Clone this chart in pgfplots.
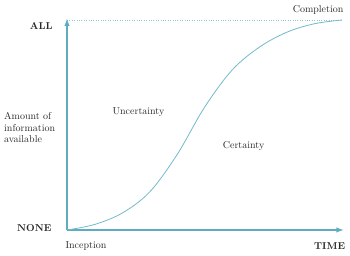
\documentclass[border=0pt]{standalone}
\usepackage{pgfplots}
\pgfplotsset{compat=1.18}
\definecolor{axcol}{RGB}{95,172,192}
\definecolor{curvecol}{RGB}{115,185,202}
\definecolor{txt}{RGB}{40,40,40}
\begin{document}
\begin{tikzpicture}[every node/.style={text=txt}]
\begin{axis}[
  scale only axis, width=275pt, height=210pt,
  xmin=0, xmax=1, ymin=0, ymax=1,
  axis lines=none, clip=false,
]
\coordinate (bbA) at (axis cs:-0.2436,-0.1238);
\coordinate (bbB) at (axis cs:1.029,1.095);
\draw[axcol!70, dotted, thin] (axis cs:0,1) -- (axis cs:1,1);
\draw[axcol, line width=1.4pt, -latex] (axis cs:0,0) -- (axis cs:0,1.005);
\draw[axcol, line width=1.4pt, -latex] (axis cs:0,0) -- (axis cs:1.005,0);
\addplot[curvecol, line width=0.8pt, smooth, tension=0.55] coordinates {
 (0,0) (0.1,0.026) (0.2,0.080) (0.3,0.180) (0.4,0.358) (0.5,0.584)
 (0.6,0.761) (0.7,0.871) (0.8,0.942) (0.9,0.982) (1,1)};
\node[anchor=east, font=\bfseries] at (axis cs:-0.04,0.971) {ALL};
\node[anchor=east, font=\bfseries] at (axis cs:-0.044,0.0095) {NONE};
\node[anchor=west, align=left, inner sep=0pt, font={\fontsize{10}{11.5}\selectfont}] at (axis cs:-0.229,0.488) {Amount of\\information\\available};
\node at (axis cs:0.26,0.562) {Uncertainty};
\node at (axis cs:0.642,0.40) {Certainty};
\node at (axis cs:0.913,1.048) {Completion};
\node at (axis cs:0.069,-0.076) {Inception};
\node[font=\bfseries] at (axis cs:0.955,-0.076) {TIME};
\end{axis}
\path[use as bounding box] (bbA) rectangle (bbB);
\end{tikzpicture}
\end{document}
